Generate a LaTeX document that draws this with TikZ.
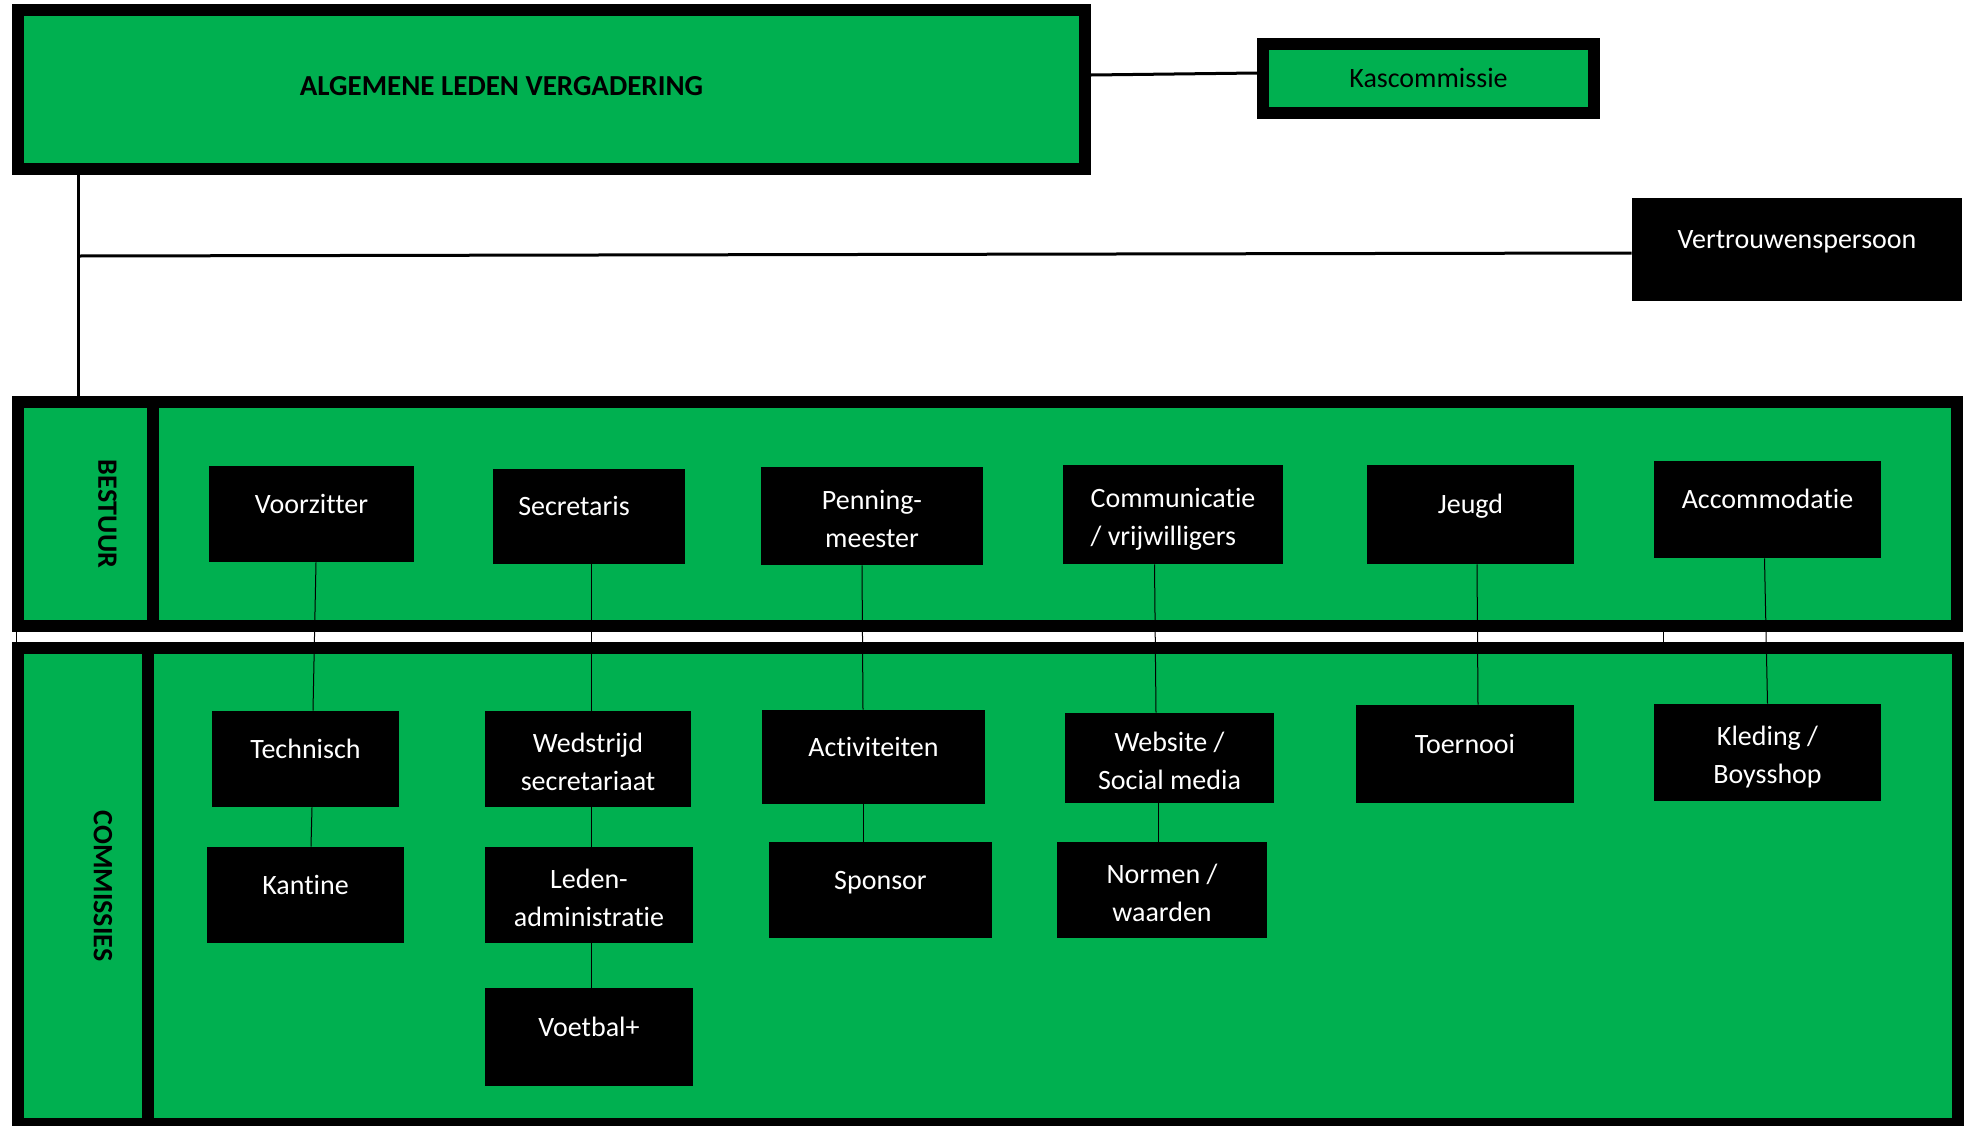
\documentclass[tikz,border=0pt]{standalone}
\usepackage{fontspec}
\setmainfont{Carlito}[Ligatures=NoCommon]
\usetikzlibrary{calc}
\definecolor{grn}{HTML}{00B050}
\begin{document}
\begin{tikzpicture}[x=0.5pt,y=-0.5pt,
  sz/.style 2 args={minimum width=#1*0.5pt, minimum height=#2*0.5pt},
  panel/.style={draw=black, line width=6pt, fill=grn, inner sep=0pt},
  blk/.style={fill=black, text=white, inner sep=0pt, font=\fontsize{14}{19}\selectfont, align=center},
  one/.style={text height=10pt, text depth=11pt},
  two/.style={text height=34pt, text depth=3pt},
  conn/.style={draw=black, line width=0.5pt},
  link/.style={draw=black, line width=1.5pt},
  lbl/.style={font=\fontsize{14}{17}\selectfont\bfseries, rotate=-90, inner sep=0pt},
  sep/.style={draw=black, line width=6pt},
]
\useasboundingbox (0,0) rectangle (1971,1125);
\clip (0,0) rectangle (1971,1125);

% top row
\node[panel, sz={1067}{159}, font=\fontsize{14.5}{17}\selectfont\bfseries,
      text height=10pt, text depth=4.5pt] (alv) at (551.5,89.5)
      {ALGEMENE LEDEN VERGADERING\hspace*{50pt}};
\node[panel, sz={331}{69}, font=\fontsize{14}{17}\selectfont,
      text height=9pt, text depth=0pt] (kas) at (1428.5,78.5) {Kascommissie};
\node[blk, one, sz={330}{103}] (vp) at (1797,249.5) {Vertrouwenspersoon};

% panels
\node[panel, sz={1939}{224}] (bestuur) at (987.5,514) {};
\draw[sep] (153,402) -- (153,626);
\node[lbl] (lbest) at (107.5,514) {BESTUUR};

\node[panel, sz={1940}{475.7}] (comms) at (988,885.85) {};
\draw[sep] (148,648) -- (148,1124);
\node[lbl] (lcomm) at (103,886) {COMMISSIES};

% small lines in the gap between the panels
\draw[conn] (16.5,632) -- (16.5,642);
\draw[conn] (1663,632) -- (1663,642);

% links at the top
\draw[link] ($(alv.east)+(0,-14.5)$) -- ($(kas.west)+(0,-5.5)$);
\coordinate (vtop) at ($(alv.south)+(-473,0)$);
\coordinate (vbot) at (vtop |- bestuur.north);
\coordinate (vjn) at ($(vtop)+(0,81)$);
\draw[link] (vtop) -- (vbot);
\draw[link] (vjn) -- ($(vp.west)+(0,3.5)$);

% bestuur
\node[blk, one, sz={205}{96}] (voorz) at (311.5,514) {Voorzitter};
\node[blk, one, sz={192}{95}] (secr) at (589,516.5) {Secretaris\hspace*{15pt}};
\node[blk, two, sz={222}{98}] (penn) at (872,516) {Penning-\\meester};
\node[blk, two, sz={220}{99}, align=left] (comm) at (1173,514.5) {Communicatie\\/ vrijwilligers};
\node[blk, one, sz={207}{99}] (jeugd) at (1470.5,514.5) {Jeugd};
\node[blk, one, sz={227}{97}] (accom) at (1767.5,509.5) {Accommodatie};

% commissies
\node[blk, one, sz={187}{96}] (techn) at (305.5,759) {Technisch};
\node[blk, one, sz={197}{96}] (kant) at (305.5,895) {Kantine};
\node[blk, two, sz={206}{96}] (wedst) at (588,759) {Wedstrijd\\secretariaat};
\node[blk, two, sz={208}{96}] (leden) at (589,895) {Leden-\\administratie};
\node[blk, one, sz={208}{98}] (voetb) at (589,1037) {Voetbal+};
\node[blk, one, sz={223}{94}] (activ) at (873.5,757) {Activiteiten};
\node[blk, one, sz={223}{96}] (spons) at (880.5,890) {Sponsor};
\node[blk, two, sz={209}{90}] (websi) at (1169.5,758) {Website /\\Social media};
\node[blk, two, sz={210}{96}] (norm) at (1162,890) {Normen /\\waarden};
\node[blk, one, sz={218}{98}] (toern) at (1465,754) {Toernooi};
\node[blk, two, sz={227}{97}] (kled) at (1767.5,752.5) {Kleding /\\Boysshop};

% connectors
\draw[conn] ($(voorz.south)+(4.5,0)$) -- ($(techn.north)+(7.5,0)$);
\draw[conn] ($(techn.south)+(6.5,0)$) -- ($(kant.north)+(5.5,0)$);
\draw[conn] ($(secr.south)+(2.5,0)$) -- ($(wedst.north)+(3.5,0)$);
\draw[conn] ($(wedst.south)+(3.5,0)$) -- ($(leden.north)+(2.5,0)$);
\draw[conn] ($(leden.south)+(2.5,0)$) -- ($(voetb.north)+(2.5,0)$);
\draw[conn] ($(penn.south)+(-10,0)$) -- ($(activ.north)+(-10.5,0)$);
\draw[conn] ($(activ.south)+(-10,0)$) -- ($(spons.north)+(-17,0)$);
\draw[conn] ($(comm.south)+(-18.5,0)$) -- ($(websi.north)+(-13.5,0)$);
\draw[conn] ($(websi.south)+(-11.5,0)$) -- ($(norm.north)+(-4,0)$);
\draw[conn] ($(jeugd.south)+(6.5,0)$) -- ($(toern.north)+(13,0)$);
\draw[conn] ($(accom.south)+(-3,0)$) -- (kled.north);
\end{tikzpicture}
\end{document}
